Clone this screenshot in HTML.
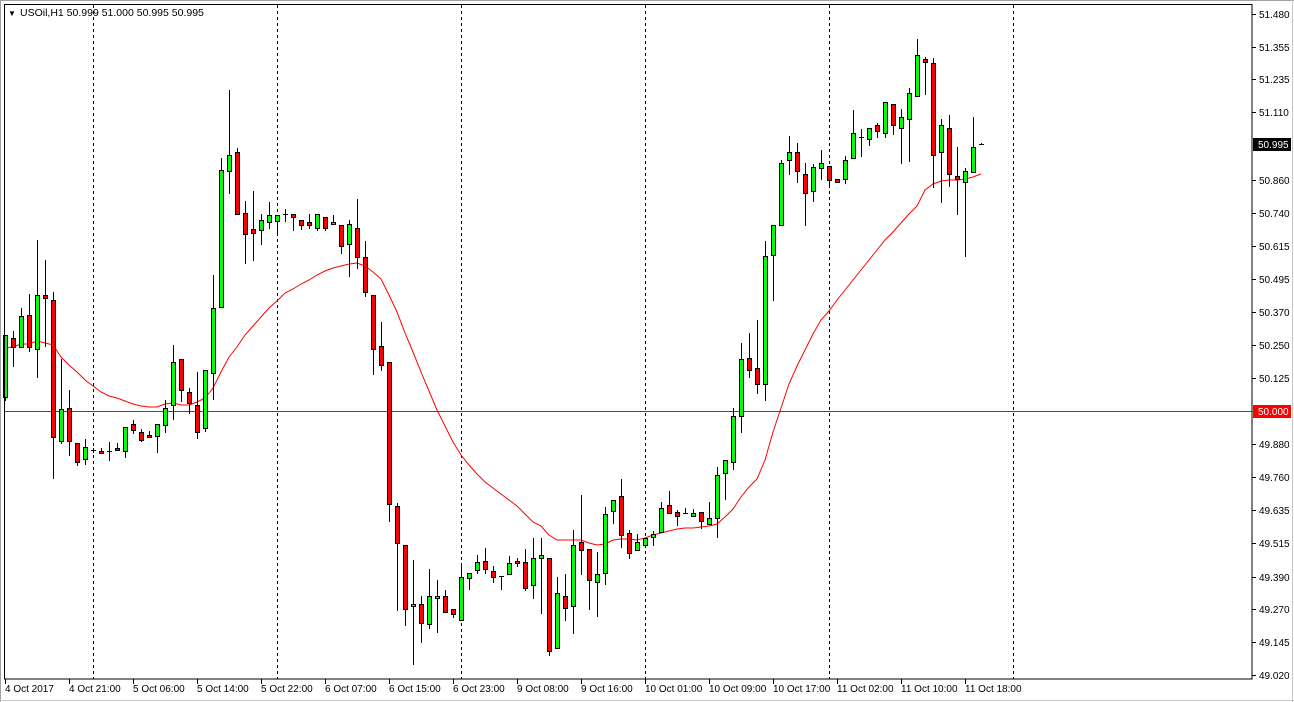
<!DOCTYPE html>
<html><head><meta charset="utf-8"><style>
html,body{margin:0;padding:0;background:#fff;}
svg{display:block;}
text{font-family:"Liberation Sans",sans-serif;font-size:10px;}
</style></head><body>
<svg id="c" width="1294" height="702" xmlns="http://www.w3.org/2000/svg" shape-rendering="crispEdges">
<rect x="0" y="0" width="1294" height="702" fill="#fff"/>
<line x1="0" y1="0.5" x2="1294" y2="0.5" stroke="#a0a0a0"/>
<line x1="0.5" y1="0" x2="0.5" y2="702" stroke="#a0a0a0"/>
<line x1="1292.5" y1="0" x2="1292.5" y2="702" stroke="#c8c8c8"/>
<line x1="0" y1="700.5" x2="1294" y2="700.5" stroke="#c8c8c8"/>
<g id="grid"></g>
<rect x="4" y="411" width="1248" height="1.2" fill="#ff0000"/>
<g id="ma"></g>
<g id="cand"></g>
<rect x="4.5" y="4.5" width="1247.5" height="674.5" fill="none" stroke="#000"/>
<g id="axis"></g>
<text x="8" y="16" style="font-size:8px">▼</text>
<text x="20" y="16" style="font-size:10.5px">USOil,H1  50.999 51.000 50.995 50.995</text>
</svg>
<script>
var NS="http://www.w3.org/2000/svg";
function el(p,n,a,t){var e=document.createElementNS(NS,n);for(var k in a)e.setAttribute(k,a[k]);if(t)e.textContent=t;document.getElementById(p).appendChild(e);return e;}
[93,277,461,645,829,1013].forEach(function(x){el("grid","line",{x1:x+.5,y1:5,x2:x+.5,y2:679,stroke:"#000","stroke-dasharray":"3,3"});});
var C=[[335,397,335,400,'g'],[338,347,331,366,'r'],[316,347,308,347,'g'],[315,347,294,351,'r'],[295,349,240,377,'g'],[295,298,260,346,'r'],[300,437,292,478,'r'],[409,441,359,443,'g'],[408,441,390,455,'r'],[443,462,443,465,'r'],[447,459,439,464,'g'],[450,450,448,452,'d'],[451,452,448,452,'r'],[451,451,442,460,'d'],[448,450,443,450,'r'],[427,451,427,457,'g'],[424,430,420,433,'r'],[432,440,429,441,'r'],[435,437,431,437,'r'],[424,436,424,452,'g'],[408,425,400,432,'g'],[362,405,345,419,'g'],[359,390,359,401,'r'],[392,403,388,413,'r'],[405,432,372,438,'r'],
[370,428,370,431,'g'],[308,373,275,399,'g'],[170,307,158,307,'g'],[155,171,90,193,'g'],[152,214,148,214,'r'],[213,234,201,263,'r'],[229,233,191,260,'r'],[220,230,214,244,'g'],[215,222,202,228,'g'],[215,221,215,234,'g'],[214,214,209,221,'d'],[214,217,214,230,'r'],[220,225,220,229,'r'],[222,225,214,228,'r'],[214,228,214,230,'g'],[217,228,217,230,'r'],[222,224,215,224,'g'],[225,246,225,253,'r'],[224,244,220,276,'g'],[228,257,199,268,'r'],[257,292,241,296,'r'],[295,349,295,374,'r'],[346,365,322,370,'r'],[362,504,362,521,'r'],
[506,543,503,610,'r'],[545,609,545,625,'r'],[604,606,560,664,'g'],[604,623,596,642,'r'],[596,624,569,628,'g'],[596,598,580,632,'g'],[596,612,590,612,'r'],[609,614,609,617,'r'],[577,620,564,620,'g'],[573,578,573,589,'g'],[562,570,555,573,'g'],[561,569,548,573,'r'],[571,577,566,582,'r'],[576,576,576,589,'d'],[563,574,556,574,'g'],[561,562,558,566,'r'],[562,588,549,590,'r'],[558,585,538,598,'g'],[555,558,538,613,'g'],[558,651,558,655,'r'],[593,648,577,648,'g'],[596,608,574,620,'r'],[545,606,530,633,'g'],[542,550,495,574,'r'],[549,580,549,609,'r'],[574,582,552,616,'g'],[514,573,507,584,'g'],[500,511,500,523,'g'],[496,535,479,547,'r'],[533,553,530,558,'r'],[542,550,534,550,'g'],[538,545,538,545,'g'],[534,537,531,545,'g'],
[508,532,502,532,'g'],[505,513,491,513,'r'],[512,516,510,525,'r'],[513,513,508,513,'d'],[513,516,509,516,'g'],[512,521,512,528,'r'],[518,524,502,524,'g'],[475,518,467,537,'g'],[460,473,460,499,'g'],[416,462,408,469,'g'],[359,416,343,432,'g'],[358,370,333,377,'r'],[368,384,320,393,'r'],[256,384,241,400,'g'],[225,255,225,300,'g'],[163,225,160,225,'g'],[152,160,136,174,'g'],[152,171,143,182,'r'],[174,193,163,225,'r'],[167,191,164,201,'g'],[163,168,150,179,'g'],[166,180,166,185,'r'],[179,182,179,182,'r'],
[160,179,156,183,'g'],[133,158,110,158,'g'],[137,137,129,156,'d'],[128,139,128,145,'g'],[125,131,123,137,'r'],[102,133,102,137,'g'],[104,125,104,134,'r'],[117,128,109,163,'g'],[93,119,88,161,'g'],[55,96,39,96,'g'],[59,62,57,94,'r'],[63,155,58,187,'r'],[125,152,119,202,'g'],[128,174,115,186,'r'],[176,179,147,214,'r'],[171,182,168,256,'g'],[147,172,117,172,'g'],[144,144,143,144,'d']];
C.forEach(function(c,i){var x=5+8*i;
 el("cand","line",{x1:x+.5,y1:c[2],x2:x+.5,y2:c[3]+1,stroke:"#000"});
 if(c[4]=='d'){el("cand","line",{x1:x-2,y1:c[0]+.5,x2:x+3,y2:c[0]+.5,stroke:"#000"});}
 else{var h=Math.max(c[1]-c[0],2);el("cand","rect",{x:x-1.5,y:c[0]+.5,width:4,height:h,fill:c[4]=='g'?'#00ff00':'#ff0000',stroke:"#000"});}
});
var M=[348,347,344,344,341,343,345,357,365,372,380,386,392,396,398,401,404,406,407,407,404,403,405,405,402,398,388,372,357,347,335,326,317,308,301,293,289,284,280,275,271,268,266,264,263,266,272,279,295,312,333,352,372,391,410,426,442,455,465,474,482,488,494,500,506,514,522,526,535,540,540,540,540,543,545,544,540,539,539,540,538,535,533,531,529,528,528,527,526,524,517,509,497,487,479,460,432,408,384,366,350,334,320,311,300,290,280,270,260,250,240,232,223,214,206,190,184,181,180,180,179,177,174];
el("ma","polyline",{points:M.map(function(y,i){return (5+8*i)+","+y;}).join(" "),fill:"none",stroke:"#ff0000","stroke-width":1,"shape-rendering":"auto"});
var P=[["51.480",14],["51.355",47],["51.235",79],["51.110",112],["50.860",180],["50.740",213],["50.615",246],["50.495",279],["50.370",312],["50.250",345],["50.125",378],["49.880",444],["49.760",477],["49.635",510],["49.515",543],["49.390",577],["49.270",609],["49.145",642],["49.020",675]];
P.forEach(function(p){el("axis","line",{x1:1252,y1:p[1]+.5,x2:1256,y2:p[1]+.5,stroke:"#000"});el("axis","text",{x:1259,y:p[1]+4},p[0]);});
el("axis","rect",{x:1253,y:138,width:38,height:13,fill:"#000"});el("axis","text",{x:1258,y:148,fill:"#fff"},"50.995");
el("axis","rect",{x:1253,y:405,width:38,height:13,fill:"#ff0000"});el("axis","text",{x:1258,y:415,fill:"#fff"},"50.000");
var T=["4 Oct 2017","4 Oct 21:00","5 Oct 06:00","5 Oct 14:00","5 Oct 22:00","6 Oct 07:00","6 Oct 15:00","6 Oct 23:00","9 Oct 08:00","9 Oct 16:00","10 Oct 01:00","10 Oct 09:00","10 Oct 17:00","11 Oct 02:00","11 Oct 10:00","11 Oct 18:00"];
T.forEach(function(t,i){var x=5+64*i;el("axis","line",{x1:x+.5,y1:679,x2:x+.5,y2:684,stroke:"#000"});el("axis","text",{x:x,y:692},t);});
</script>
</body></html>
